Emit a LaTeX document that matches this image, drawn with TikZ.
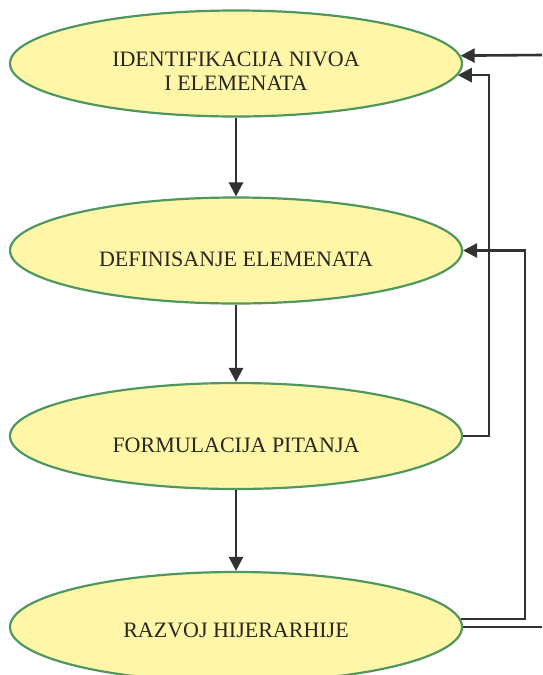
\documentclass[tikz,border=0pt]{standalone}
\usepackage{fontspec}
\setmainfont{Liberation Serif}
\usetikzlibrary{shapes.geometric,arrows.meta,calc}
\definecolor{efill}{RGB}{255,246,168}
\definecolor{eline}{RGB}{80,150,95}
\definecolor{aline}{RGB}{50,50,50}
\definecolor{etext}{RGB}{40,40,35}
\begin{document}
\begin{tikzpicture}[x=1pt,y=-1pt,
  stage/.style={ellipse,draw=eline,line width=2.2pt,fill=efill,minimum width=452pt,minimum height=106pt,inner sep=0pt},
  lbl/.style={inner sep=0pt,font=\fontsize{22}{24}\selectfont,text=etext,align=center},
  flow/.style={draw=aline,line width=2.6pt,-{Triangle[length=14pt,width=14pt]}},
  plain/.style={draw=aline,line width=2.6pt}]
\useasboundingbox (0,0) rectangle (542,675);
\clip (0,0) rectangle (542,675);
\fill[white] (0,0) rectangle (542,675);
\node[stage] (e1) at (236,63.5) {};
\node[stage] (e2) at (236,250.5) {};
\node[stage] (e3) at (236,436) {};
\node[stage,minimum height=110pt] (e4) at (236,627) {};
\node[lbl] (t1) at ($(e1.center)+(0,8)$) {IDENTIFIKACIJA NIVOA\\I ELEMENATA};
\node[lbl] (t2) at ($(e2.center)+(0,9)$) {DEFINISANJE ELEMENATA};
\node[lbl] (t3) at ($(e3.center)+(0,9)$) {FORMULACIJA PITANJA};
\node[lbl] (t4) at ($(e4.center)+(0,3)$) {RAZVOJ HIJERARHIJE};
\draw[flow] (e1.south) -- (e2.north);
\draw[flow] (e2.south) -- (e3.north);
\draw[flow] (e3.south) -- (e4.north);
\coordinate (in1) at (542,55);
\coordinate (out4) at (542,0);
\coordinate (r1) at (489,0);
\coordinate (r2) at (525,0);
\draw[flow] (in1) -- (e1.2);
\draw[flow] (e3.east) -- (r1 |- e3.east) -- (r1 |- e1.-3) -- (e1.-3);
\draw[flow] (e4.2) -- (r2 |- e4.2) -- (r2 |- e2.east) -- (e2.east);
\draw[plain] (e4.east) -- (out4 |- e4.east);
\end{tikzpicture}
\end{document}
